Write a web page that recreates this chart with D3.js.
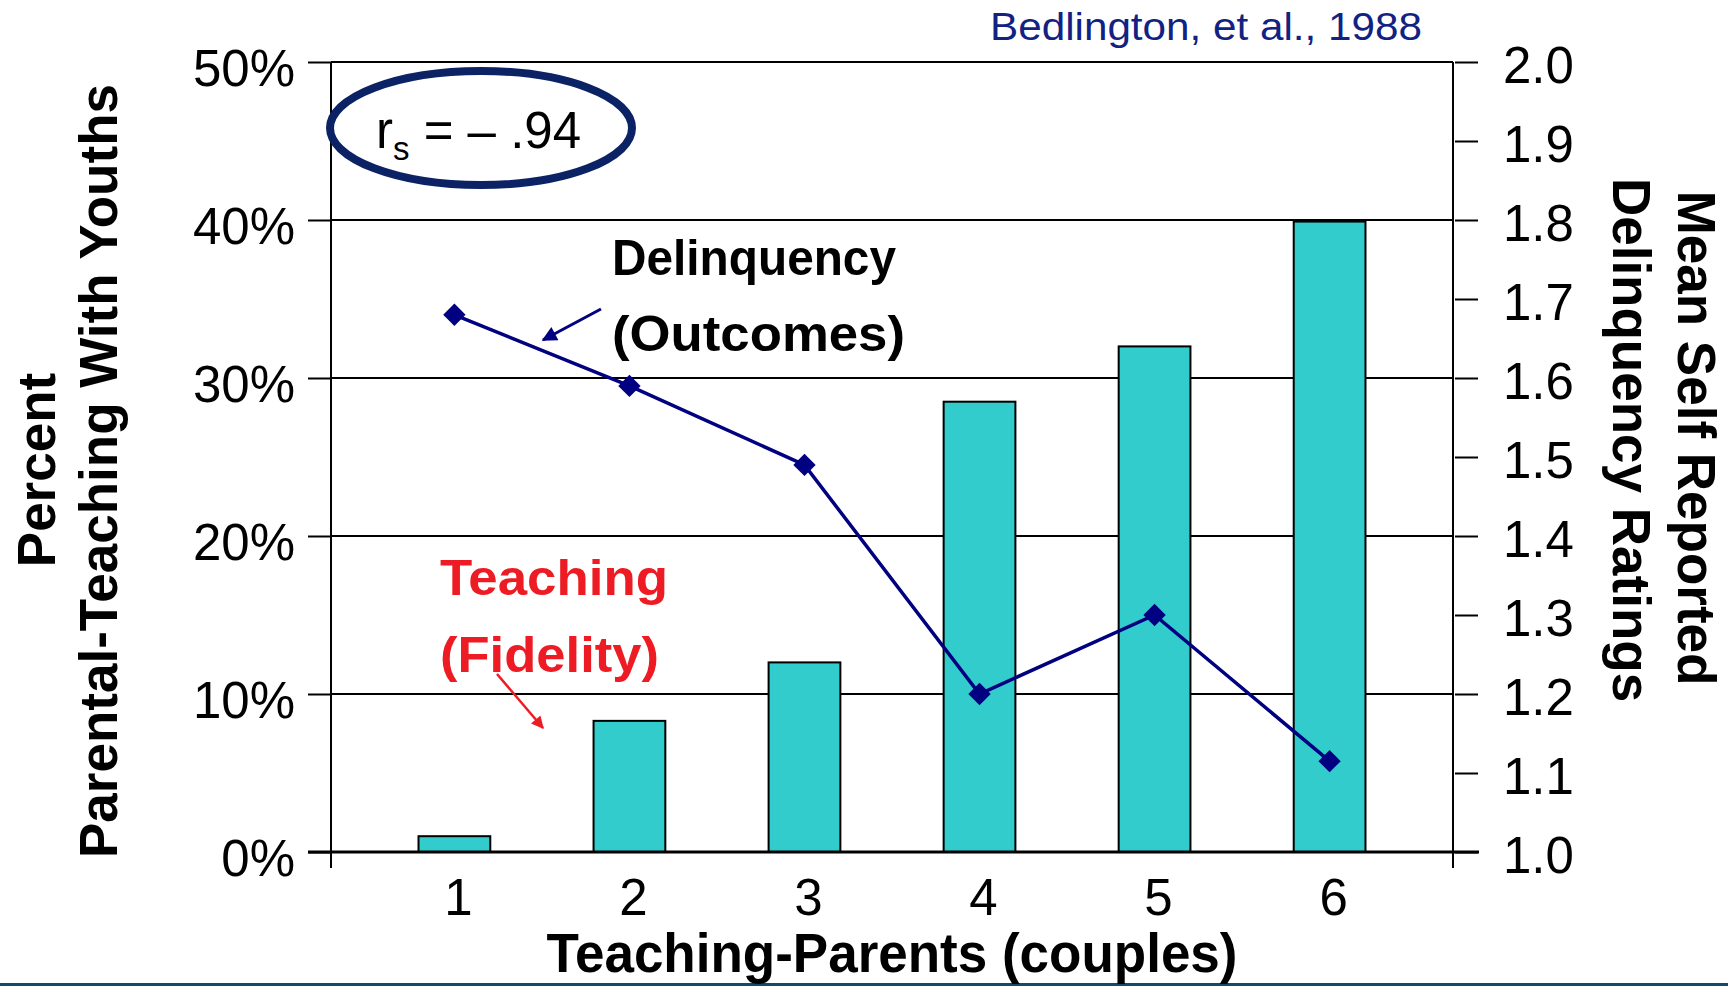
<!DOCTYPE html>
<html>
<head>
<meta charset="utf-8">
<script src="https://cdn.jsdelivr.net/npm/d3@7"></script>
<style>
  body { margin: 0; background: #fff; }
  svg { display: block; font-family: "Liberation Sans", Arial, sans-serif; }
</style>
</head>
<body>
<svg id="chart"></svg>
<script>
// data
const couples = ["1", "2", "3", "4", "5", "6"];
const teachingPct = [0.01, 0.083, 0.12, 0.285, 0.32, 0.399];
const delinquency = [1.68, 1.59, 1.49, 1.20, 1.30, 1.115];
const leftTicks = [0, 0.1, 0.2, 0.3, 0.4, 0.5];
const rightTicks = [1.0, 1.1, 1.2, 1.3, 1.4, 1.5, 1.6, 1.7, 1.8, 1.9, 2.0];

const width = 1728, height = 986;
const plot = {left: 331, right: 1453, top: 62, bottom: 852};

const svg = d3.select("#chart").attr("width", width).attr("height", height);

const x = d3.scaleBand().domain(couples).range([plot.left, plot.right])
  .paddingInner(0.59).paddingOuter(0.5);
const yL = d3.scaleLinear().domain([0, 0.5]).range([plot.bottom, plot.top]);
const yR = d3.scaleLinear().domain([1.0, 2.0]).range([plot.bottom, plot.top]);

// bottom strip of the slide
svg.append("rect").attr("x", 0).attr("y", 983).attr("width", width).attr("height", 3)
  .attr("fill", "#114a6a");

// gridlines
svg.append("g").selectAll("line").data(leftTicks.filter(d => d > 0)).join("line")
  .attr("x1", plot.left).attr("x2", plot.right)
  .attr("y1", d => yL(d)).attr("y2", d => yL(d))
  .attr("stroke", "#000").attr("stroke-width", 2);

// bars
svg.append("g").selectAll("rect").data(teachingPct).join("rect")
  .attr("x", (d, i) => x(couples[i]))
  .attr("y", d => yL(d))
  .attr("width", x.bandwidth())
  .attr("height", d => yL(0) - yL(d))
  .attr("fill", "#33cccc").attr("stroke", "#000").attr("stroke-width", 2);

// plot frame: left + right sides
svg.append("line").attr("x1", plot.left).attr("x2", plot.left)
  .attr("y1", plot.top).attr("y2", plot.bottom + 16).attr("stroke", "#000").attr("stroke-width", 2);
svg.append("line").attr("x1", plot.right).attr("x2", plot.right)
  .attr("y1", plot.top).attr("y2", plot.bottom + 16).attr("stroke", "#000").attr("stroke-width", 2);

// left axis
const axL = svg.append("g").attr("transform", `translate(${plot.left},0)`)
  .call(d3.axisLeft(yL).tickValues(leftTicks).tickFormat(d3.format(".0%"))
    .tickSize(23).tickSizeOuter(0).tickPadding(13));
axL.select(".domain").remove();
axL.selectAll("line").attr("stroke-width", 2);
axL.selectAll("text").attr("font-size", 51).attr("dy", "0.47em")
  .attr("font-family", "Liberation Sans, Arial, sans-serif").attr("fill", "#000");

// right axis
const axR = svg.append("g").attr("transform", `translate(${plot.right + 2},0)`)
  .call(d3.axisRight(yR).tickValues(rightTicks).tickFormat(d3.format(".1f"))
    .tickSize(23).tickSizeOuter(0).tickPadding(25));
axR.select(".domain").remove();
axR.selectAll("line").attr("stroke-width", 2);
axR.selectAll("text").attr("font-size", 51).attr("dy", "0.41em")
  .attr("font-family", "Liberation Sans, Arial, sans-serif").attr("fill", "#000");

// top frame + grid at 50%
svg.append("line").attr("x1", plot.left).attr("x2", plot.right)
  .attr("y1", yL(0.5)).attr("y2", yL(0.5)).attr("stroke", "#000").attr("stroke-width", 2);

// bottom axis
svg.append("line").attr("x1", plot.left - 23).attr("x2", plot.right + 26)
  .attr("y1", plot.bottom).attr("y2", plot.bottom).attr("stroke", "#000").attr("stroke-width", 3);
const axB = svg.append("g").attr("transform", `translate(0,${plot.bottom})`)
  .call(d3.axisBottom(x).tickSize(0).tickPadding(63));
axB.select(".domain").remove();
axB.selectAll("text").attr("font-size", 51).attr("dy", 0).attr("dx", 4)
  .attr("font-family", "Liberation Sans, Arial, sans-serif").attr("fill", "#000");

// delinquency line
const line = d3.line()
  .x((d, i) => x(couples[i]) + x.bandwidth() / 2)
  .y(d => yR(d));
svg.append("path").datum(delinquency).attr("d", line)
  .attr("fill", "none").attr("stroke", "#000080").attr("stroke-width", 3.5);
svg.append("g").selectAll("path").data(delinquency).join("path")
  .attr("d", d3.symbol(d3.symbolSquare, 250))
  .attr("transform", (d, i) => `translate(${x(couples[i]) + x.bandwidth() / 2},${yR(d)}) rotate(45)`)
  .attr("fill", "#000080");

// axis titles
const bold = sel => sel.attr("font-weight", "bold").attr("fill", "#000");
svg.append("text").attr("transform", "translate(55,470) rotate(-90)")
  .attr("text-anchor", "middle").attr("font-size", 53).call(bold).text("Percent");
svg.append("text").attr("transform", "translate(117,471) rotate(-90)")
  .attr("text-anchor", "middle").attr("font-size", 53).call(bold).text("Parental-Teaching With Youths");
svg.append("text").attr("transform", "translate(1678,438) rotate(90)")
  .attr("text-anchor", "middle").attr("font-size", 53).call(bold).text("Mean Self Reported");
svg.append("text").attr("transform", "translate(1613,440) rotate(90)")
  .attr("text-anchor", "middle").attr("font-size", 53).call(bold).text("Delinquency Ratings");
svg.append("text").attr("x", (plot.left + plot.right) / 2).attr("y", 972)
  .attr("text-anchor", "middle").attr("font-size", 55).call(bold)
  .attr("textLength", 691).attr("lengthAdjust", "spacingAndGlyphs")
  .text("Teaching-Parents (couples)");

// source
svg.append("text").attr("x", 990).attr("y", 40).attr("font-size", 38)
  .attr("fill", "#122283").attr("textLength", 432).attr("lengthAdjust", "spacingAndGlyphs")
  .text("Bedlington, et al., 1988");

// correlation badge
svg.append("ellipse").attr("cx", 481).attr("cy", 128).attr("rx", 151).attr("ry", 57)
  .attr("fill", "none").attr("stroke", "#0b2265").attr("stroke-width", 8);
const rs = svg.append("text").attr("x", 376).attr("y", 148).attr("font-size", 51).attr("fill", "#000");
rs.append("tspan").text("r");
rs.append("tspan").attr("font-size", 33).attr("dy", 12).text("s");
rs.append("tspan").attr("dy", -12).text(" = \u2013 .94");

// annotations
const note = (txt, xx, yy, len, color) => svg.append("text")
  .attr("x", xx).attr("y", yy).attr("font-size", 50).attr("font-weight", "bold")
  .attr("fill", color).attr("textLength", len).attr("lengthAdjust", "spacingAndGlyphs")
  .text(txt);
note("Delinquency", 612, 275, 284, "#000");
note("(Outcomes)", 612, 351, 293, "#000");
note("Teaching", 440, 595, 228, "#ed1c24");
note("(Fidelity)", 440, 672, 219, "#ed1c24");

const defs = svg.append("defs");
[["navyHead", "#000080"], ["redHead", "#ed1c24"]].forEach(([id, c]) => {
  defs.append("marker").attr("id", id).attr("viewBox", "0 0 10 10")
    .attr("refX", 9).attr("refY", 5).attr("markerWidth", 6).attr("markerHeight", 5)
    .attr("orient", "auto").attr("markerUnits", "strokeWidth")
    .append("path").attr("d", "M0,0L10,5L0,10z").attr("fill", c);
});
svg.append("line").attr("x1", 601).attr("y1", 309).attr("x2", 543).attr("y2", 340)
  .attr("stroke", "#000080").attr("stroke-width", 3).attr("marker-end", "url(#navyHead)");
svg.append("line").attr("x1", 497).attr("y1", 674).attr("x2", 543).attr("y2", 728)
  .attr("stroke", "#ed1c24").attr("stroke-width", 2.5).attr("marker-end", "url(#redHead)");
</script>
</body>
</html>
